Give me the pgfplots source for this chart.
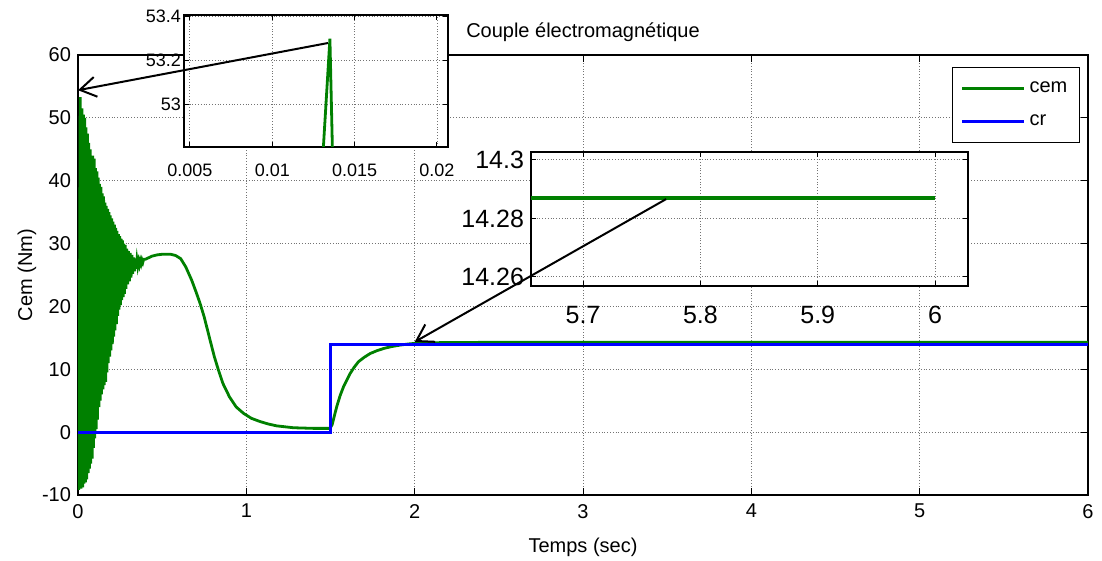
\documentclass[border=0pt]{standalone}
\usepackage{fontspec}
\setmainfont{Liberation Sans}
\usepackage{pgfplots}
\pgfplotsset{compat=1.18}
\usetikzlibrary{arrows.meta}

\definecolor{cemgreen}{RGB}{0,128,0}
\definecolor{crblue}{RGB}{0,0,255}

\pgfplotstableread{
t v
0 0
0.005 -9.2
0.0131 52.8
0.0135 53.3
0.01365 52.8
0.018 -9.0
0.023 51.5
0.028 -8.8
0.032 50.5
0.036 -8.2
0.040 50.0
0.044 -8.0
0.048 48.5
0.052 -7.5
0.056 47.5
0.060 -6.5
0.064 46
0.068 -5.8
0.072 45
0.076 -5
0.080 44
0.084 -4.2
0.088 44
0.092 -2.5
0.096 43.5
0.100 -1.0
0.104 42
0.108 0.5
0.112 41.5
0.116 2.0
0.120 40.5
0.124 4
0.128 39.5
0.132 5
0.136 39
0.140 6
0.144 38
0.148 6.8
0.152 37.5
0.156 7.5
0.160 36.5
0.164 8
0.168 36
0.172 9.5
0.176 35.5
0.180 11
0.184 35
0.188 12
0.192 34.5
0.196 13
0.200 34
0.204 14
0.208 33.5
0.212 15.2
0.216 33
0.220 16.2
0.224 32.5
0.228 17.2
0.232 32
0.236 18.5
0.240 31.5
0.244 19.5
0.248 31.2
0.252 20.2
0.256 30.8
0.260 21
0.264 30.5
0.268 21.5
0.272 30
0.276 22
0.280 29.8
0.285 22.8
0.290 29.2
0.295 23.5
0.300 28.8
0.305 24
0.310 28.5
0.315 24.6
0.320 28.2
0.325 25.2
0.330 27.8
0.335 25.6
0.340 27.6
0.345 26.0
0.350 27.4
0.355 26.4
0.360 27.2
0.365 26.6
0.370 27.3
0.375 26.8
0.380 27.4
0.385 27.0
0.390 27.5
0.40 27.5
0.44 28.0
0.47 28.2
0.50 28.3
0.55 28.3
0.58 28.1
0.61 27.6
0.64 26.3
0.675 24.2
0.70 22.4
0.725 20.5
0.75 18.3
0.784 14.7
0.81 12.0
0.834 9.9
0.86 7.8
0.90 5.6
0.94 4.0
0.983 3.0
1.03 2.2
1.08 1.7
1.13 1.3
1.18 1.0
1.28 0.7
1.40 0.6
1.497 0.6
1.51 1.2
1.525 2.8
1.537 4.05
1.557 5.8
1.577 7.2
1.597 8.3
1.616 9.3
1.64 10.3
1.666 11.2
1.70 11.9
1.735 12.5
1.775 12.95
1.815 13.3
1.86 13.6
1.914 13.85
1.96 14.02
2.0 14.12
2.1 14.22
2.2 14.26
2.4 14.28
2.7 14.287
5.6 14.287
6 14.287
}\cemdata

\begin{document}
\begin{tikzpicture}
\path[use as bounding box] (0pt,0pt) rectangle (551pt,-280.5pt);

\pgfplotsset{
  every axis/.append style={
    scale only axis,
    axis line style={black, line width=0.7pt},
    tick style={black, line width=0.5pt},
    major tick length=3.5pt,
    tick align=inside,
    grid=major,
    grid style={densely dotted, black!55, line width=0.45pt},
    /pgf/number format/assume math mode=true,
  },
}

% main axis
\begin{axis}[
  at={(39pt,-247.5pt)}, anchor=south west,
  width=505pt, height=220pt,
  xmin=0, xmax=6, ymin=-10, ymax=60,
  xtick={0,1,...,6}, ytick={-10,0,...,60},
  tick label style={font=\normalsize},
  xticklabel style={yshift=-1pt},
  xlabel={Temps (sec)}, ylabel={Cem (Nm)},
  xlabel style={font=\normalsize, yshift=-3pt},
  ylabel style={font=\normalsize, yshift=-4pt},
  title={Couple électromagnétique},
  title style={font=\normalsize, at={(0.5,1)}, anchor=base, yshift=2.5pt},
  legend style={at={(1,1)}, anchor=north east, xshift=-4pt, yshift=-6pt,
    draw=black, line width=0.6pt, font=\normalsize,
    inner xsep=4pt, inner ysep=5pt, row sep=5.5pt},
  legend cell align=left,
  legend image code/.code={\draw[#1] (0pt,0pt) -- (31pt,0pt);},
]
\addplot[cemgreen, line width=1.4pt] table[x=t, y=v] {\cemdata};
\addlegendentry{cem}
\addplot[crblue, line width=1.6pt] coordinates {(0,0) (1.5,0) (1.5,14) (6,14)};
\addlegendentry{cr}
\coordinate (tipA) at (axis cs:0,54.4);
\coordinate (tipB) at (axis cs:2.0,14.35);
\end{axis}

% inset 1
\begin{axis}[
  at={(92pt,-73.5pt)}, anchor=south west,
  width=132pt, height=66pt,
  axis background/.style={fill=white},
  xmin=0.00464, xmax=0.02067, ymin=52.805, ymax=53.408,
  xtick={0.005,0.01,0.015,0.02}, ytick={53,53.2,53.4},
  xticklabels={0.005,0.01,0.015,0.02},
  yticklabels={53,53.2,53.4},
  scaled x ticks=false,
  tick label style={font=\fontsize{9}{11}\selectfont},
  xticklabel style={yshift=-5pt},
  yticklabel style={xshift=2pt},
  major tick length=2.5pt,
]
\addplot[cemgreen, line width=1.4pt, restrict x to domain=0.012:0.015] table[x=t, y=v] {\cemdata};
\coordinate (srcA) at (axis cs:0.01338,53.28);
\end{axis}

% inset 2
\begin{axis}[
  at={(265.5pt,-143pt)}, anchor=south west,
  width=218.5pt, height=67pt,
  axis background/.style={fill=white},
  xmin=5.6557, xmax=6.028, ymin=14.2569, ymax=14.3027,
  xtick={5.7,5.8,5.9,6}, ytick={14.26,14.28,14.3},
  xticklabels={5.7,5.8,5.9,6},
  yticklabels={14.26,14.28,14.3},
  tick label style={font=\fontsize{12.5}{15}\selectfont},
  xticklabel style={yshift=-6.5pt},
  major tick length=2.5pt,
]
\addplot[cemgreen, line width=1.7pt, restrict x to domain=5.5:6.1] table[x=t, y=v] {\cemdata};
\coordinate (srcB) at (axis cs:5.7708,14.2866);
\end{axis}

\draw[black, line width=1pt, -{Straight Barb[length=8pt, width=10pt]}] (srcA) -- (tipA);
\draw[black, line width=1pt, -{Straight Barb[length=8pt, width=10pt]}] (srcB) -- (tipB);
\end{tikzpicture}
\end{document}
